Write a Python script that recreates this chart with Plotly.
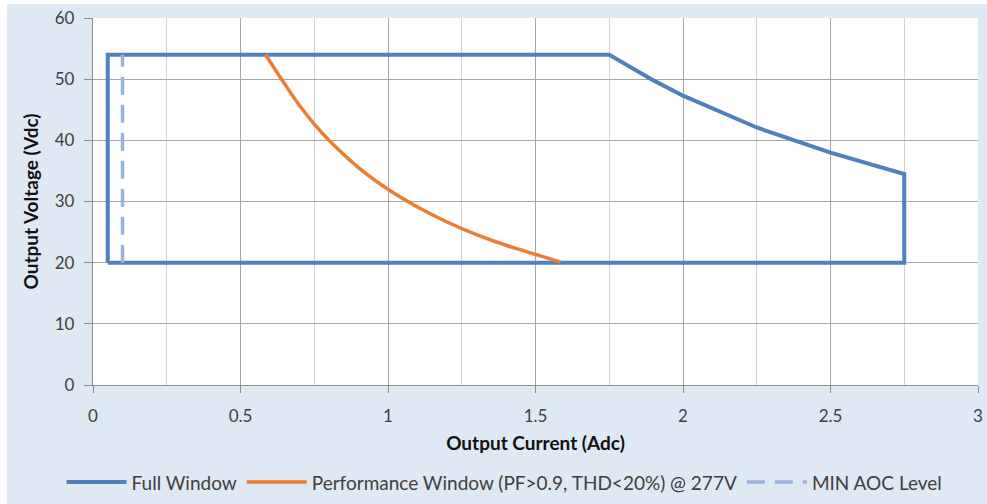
import plotly.graph_objects as go

# Full Window envelope (Output Current A, Output Voltage V)
full_x = [0.05, 0.05, 1.75, 1.9, 2.0, 2.25, 2.5, 2.75, 2.75, 0.05]
full_y = [20, 54, 54, 49.8, 47.3, 42.1, 38.0, 34.5, 20, 20]

# Performance Window curve
perf_x = [0.585, 0.65, 0.7, 0.75, 0.8, 0.9, 1.0, 1.1, 1.2, 1.3, 1.4, 1.5, 1.585]
perf_y = [54, 49.2, 45.7, 42.65, 40.0, 35.55, 32.0, 29.1, 26.65, 24.6, 22.85, 21.35, 20.1]

# MIN AOC level
aoc_x = [0.1, 0.1]
aoc_y = [20, 54]

x_ticks = [0, 0.5, 1, 1.5, 2, 2.5, 3]
x_tick_labels = ["0", "0.5", "1", "1.5", "2", "2.5", "3"]
y_ticks = [0, 10, 20, 30, 40, 50, 60]

fig = go.Figure()
fig.add_trace(go.Scatter(x=full_x, y=full_y, mode="lines", name="Full Window",
                         line=dict(color="#4f81bd", width=4), cliponaxis=False))
fig.add_trace(go.Scatter(x=perf_x, y=perf_y, mode="lines",
                         name="Performance Window (PF>0.9, THD<20%) @ 277V",
                         line=dict(color="#ed7d31", width=3.5, shape="spline", smoothing=1.0),
                         cliponaxis=False))
fig.add_trace(go.Scatter(x=aoc_x, y=aoc_y, mode="lines", name="MIN AOC Level",
                         line=dict(color="#9bb4de", width=3.5, dash="18px,10px"), cliponaxis=False))

font_family = "Lato, Open Sans, sans-serif"

fig.update_layout(
    width=980, height=500,
    margin=dict(l=86, r=9, t=14, b=119, autoexpand=False),
    paper_bgcolor="#dfe9f3",
    plot_bgcolor="#ffffff",
    font=dict(family=font_family, size=17, color="#404040"),
    showlegend=True,
    legend=dict(orientation="h", x=0.465, xanchor="center", y=-0.265, yanchor="middle",
                font=dict(size=19, color="#404040"), bgcolor="rgba(0,0,0,0)",
                itemwidth=60, tracegroupgap=0),
    xaxis=dict(range=[0, 3], tickvals=x_ticks, ticktext=x_tick_labels,
               automargin=False,
               showgrid=True, gridcolor="#a6a6a6", gridwidth=1.3,
               minor=dict(dtick=0.25, showgrid=True, gridcolor="#d4d4d4", gridwidth=1, ticks=""),
               showline=True, linecolor="#8c8c8c", linewidth=1.3,
               ticks="outside", ticklen=7, tickcolor="#8c8c8c",
               ticklabelstandoff=8,
               zeroline=False, tickfont=dict(size=17),
               title=dict(text="<b>Output Current (Adc)</b>", font=dict(size=19, color="#111111"),
                          standoff=12)),
    yaxis=dict(range=[0, 60], tickvals=y_ticks,
               automargin=False,
               showgrid=True, gridcolor="#a6a6a6", gridwidth=1.3,
               showline=True, linecolor="#8c8c8c", linewidth=1.3,
               ticks="outside", ticklen=8, tickcolor="#8c8c8c",
               ticklabelstandoff=6,
               zeroline=False, tickfont=dict(size=17),
               title=dict(text="<b>Output Voltage (Vdc)</b>", font=dict(size=19, color="#111111"),
                          standoff=11)),
)

fig.write_html("out.html", post_script="document.body.style.margin='4px 0px 0px 7px';")
